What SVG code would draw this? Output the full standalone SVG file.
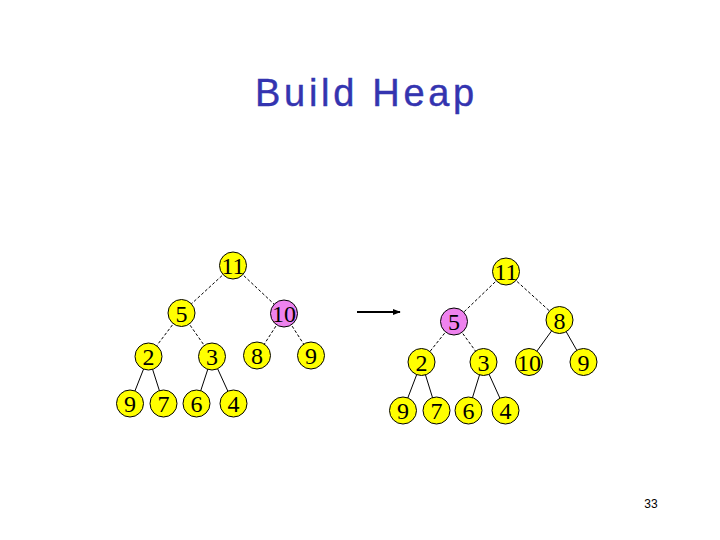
<svg xmlns="http://www.w3.org/2000/svg" width="720" height="540" viewBox="0 0 720 540">
<defs>
<style>
.n circle{fill:#FFFF00;stroke:#000;stroke-width:1}
.n.p circle{fill:#EE82EE}
.n text{font-family:"Liberation Serif","Times New Roman",serif;font-size:24px;fill:#000;text-anchor:middle}
.e line{stroke:#000;stroke-width:1}
.e line.d{stroke-dasharray:3,2}
</style>
<marker id="ah" viewBox="0 0 10 10" refX="9" refY="5" markerWidth="4" markerHeight="4" orient="auto" markerUnits="strokeWidth">
<path d="M0,1 L10,5 L0,9 z" fill="#000"/>
</marker>
</defs>
<rect width="720" height="540" fill="#fff"/>
<text x="255" y="106" font-family="Liberation Sans, Arial, sans-serif" font-size="38" letter-spacing="3.7" fill="#3434B0" stroke="#3434B0" stroke-width="0.4">Build Heap</text>
<text x="651" y="508" font-family="Liberation Sans, Arial, sans-serif" font-size="12" text-anchor="middle" fill="#000">33</text>
<g id="connectors" class="e">
<line class="d" x1="233" y1="265.5" x2="181.5" y2="313"/>
<line class="d" x1="233" y1="265.5" x2="284" y2="313.5"/>
<line class="d" x1="181.5" y1="313" x2="148.5" y2="356.5"/>
<line class="d" x1="181.5" y1="313" x2="212" y2="356.5"/>
<line class="d" x1="284" y1="313.5" x2="257" y2="355.5"/>
<line class="d" x1="284" y1="313.5" x2="311" y2="355.5"/>
<line x1="148.5" y1="356.5" x2="130" y2="403.5"/>
<line x1="148.5" y1="356.5" x2="163.5" y2="403.5"/>
<line x1="212" y1="356.5" x2="196.5" y2="403.5"/>
<line x1="212" y1="356.5" x2="233.5" y2="403.5"/>
<line class="d" x1="506" y1="271.5" x2="454" y2="321.5"/>
<line class="d" x1="506" y1="271.5" x2="559.5" y2="320"/>
<line class="d" x1="454" y1="321.5" x2="421.5" y2="362"/>
<line class="d" x1="454" y1="321.5" x2="483.5" y2="362"/>
<line x1="559.5" y1="320" x2="529" y2="362"/>
<line x1="559.5" y1="320" x2="583.5" y2="362"/>
<line x1="421.5" y1="362" x2="403" y2="410.5"/>
<line x1="421.5" y1="362" x2="436.5" y2="410.5"/>
<line x1="483.5" y1="362" x2="468.5" y2="410.5"/>
<line x1="483.5" y1="362" x2="505.5" y2="410.5"/>
<line x1="357" y1="312" x2="400" y2="312" style="stroke-width:2" marker-end="url(#ah)"/>
</g>
<g id="L11" class="n"><circle cx="233" cy="265.5" r="13.5"/><text x="233" y="274">11</text></g>
<g id="L5" class="n"><circle cx="181.5" cy="313" r="13.5"/><text x="181.5" y="321.5">5</text></g>
<g id="L10" class="n p"><circle cx="284" cy="313.5" r="13.5"/><text x="284" y="322">10</text></g>
<g id="L2" class="n"><circle cx="148.5" cy="356.5" r="13.5"/><text x="148.5" y="365">2</text></g>
<g id="L3" class="n"><circle cx="212" cy="356.5" r="13.5"/><text x="212" y="365">3</text></g>
<g id="L8" class="n"><circle cx="257" cy="355.5" r="13.5"/><text x="257" y="364">8</text></g>
<g id="L9a" class="n"><circle cx="311" cy="355.5" r="13.5"/><text x="311" y="364">9</text></g>
<g id="L9b" class="n"><circle cx="130" cy="403.5" r="13.5"/><text x="130" y="412">9</text></g>
<g id="L7" class="n"><circle cx="163.5" cy="403.5" r="13.5"/><text x="163.5" y="412">7</text></g>
<g id="L6" class="n"><circle cx="196.5" cy="403.5" r="13.5"/><text x="196.5" y="412">6</text></g>
<g id="L4" class="n"><circle cx="233.5" cy="403.5" r="13.5"/><text x="233.5" y="412">4</text></g>
<g id="R11" class="n"><circle cx="506" cy="271.5" r="13.5"/><text x="506" y="280">11</text></g>
<g id="R5" class="n p"><circle cx="454" cy="321.5" r="13.5"/><text x="454" y="330">5</text></g>
<g id="R8" class="n"><circle cx="559.5" cy="320" r="13.5"/><text x="559.5" y="328.5">8</text></g>
<g id="R2" class="n"><circle cx="421.5" cy="362" r="13.5"/><text x="421.5" y="370.5">2</text></g>
<g id="R3" class="n"><circle cx="483.5" cy="362" r="13.5"/><text x="483.5" y="370.5">3</text></g>
<g id="R10" class="n"><circle cx="529" cy="362" r="13.5"/><text x="529" y="370.5">10</text></g>
<g id="R9a" class="n"><circle cx="583.5" cy="362" r="13.5"/><text x="583.5" y="370.5">9</text></g>
<g id="R9b" class="n"><circle cx="403" cy="410.5" r="13.5"/><text x="403" y="419">9</text></g>
<g id="R7" class="n"><circle cx="436.5" cy="410.5" r="13.5"/><text x="436.5" y="419">7</text></g>
<g id="R6" class="n"><circle cx="468.5" cy="410.5" r="13.5"/><text x="468.5" y="419">6</text></g>
<g id="R4" class="n"><circle cx="505.5" cy="410.5" r="13.5"/><text x="505.5" y="419">4</text></g>
</svg>
